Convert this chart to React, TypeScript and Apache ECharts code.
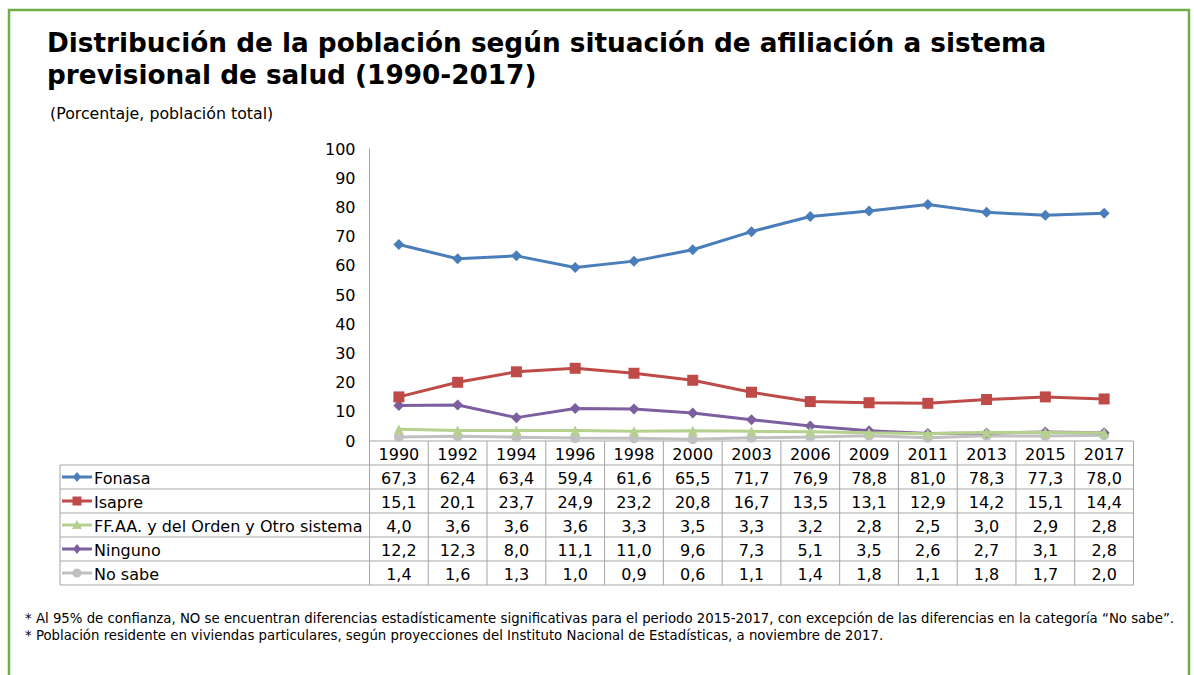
import React, { useEffect, useRef } from "react";
import * as echarts from "echarts";

const years = ["1990", "1992", "1994", "1996", "1998", "2000", "2003", "2006", "2009", "2011", "2013", "2015", "2017"];
const fonasa = [67.3, 62.4, 63.4, 59.4, 61.6, 65.5, 71.7, 76.9, 78.8, 81.0, 78.3, 77.3, 78.0];
const isapre = [15.1, 20.1, 23.7, 24.9, 23.2, 20.8, 16.7, 13.5, 13.1, 12.9, 14.2, 15.1, 14.4];
const ffaa = [4.0, 3.6, 3.6, 3.6, 3.3, 3.5, 3.3, 3.2, 2.8, 2.5, 3.0, 2.9, 2.8];
const ninguno = [12.2, 12.3, 8.0, 11.1, 11.0, 9.6, 7.3, 5.1, 3.5, 2.6, 2.7, 3.1, 2.8];
const noSabe = [1.4, 1.6, 1.3, 1.0, 0.9, 0.6, 1.1, 1.4, 1.8, 1.1, 1.8, 1.7, 2.0];

const seriesNames = ["Fonasa", "Isapre", "FF.AA. y del Orden y Otro sistema", "Ninguno", "No sabe"];
const seriesData = [fonasa, isapre, ffaa, ninguno, noSabe];
const seriesColors = ["#4a7ebb", "#be4b48", "#b6d08e", "#7d5fa0", "#c0c0c0"];
const seriesSymbols = ["diamond", "rect", "triangle", "diamond", "circle"];
const seriesSymbolSizes = [11, 11, 10, 11, 10];

const titleText = "Distribución de la población según situación de afiliación a sistema\nprevisional de salud (1990-2017)";
const subtitleText = "(Porcentaje, población total)";
const footnotes = [
  "* Al 95% de confianza, NO se encuentran diferencias estadísticamente significativas para el periodo 2015-2017, con excepción de las diferencias en la categoría “No sabe”.",
  "* Población residente en viviendas particulares, según proyecciones del Instituto Nacional de Estadísticas, a noviembre de 2017.",
];

const W = 1194;
const H = 675;
const FONT = "DejaVu Sans, Verdana, sans-serif";

const fmt = (v: number) => v.toFixed(1).replace(".", ",");

export default function App() {
  const ref = useRef<HTMLDivElement>(null);
  useEffect(() => {
    document.body.style.margin = "0";
    if (!ref.current) return;
    const chart = echarts.init(ref.current, null, { renderer: "svg" });

    const gridLeft = 369.5;
    const gridRight = 1133.5;
    const gridTop = 149;
    const gridBottom = 441;
    const colW = (gridRight - gridLeft) / years.length;
    const tableLeft = 60;
    const rowH = 24;
    const lineColor = "#a6a6a6";

    const graphic: any[] = [];
    graphic.push({
      type: "rect",
      shape: { x: 9, y: 10, width: 1180, height: 700 },
      style: { fill: "none", stroke: "#70ad47", lineWidth: 2.5 },
    });
    graphic.push({
      type: "text",
      x: 47,
      y: 27,
      style: { text: titleText, font: `bold 26.3px ${FONT}`, fill: "#000", lineHeight: 32 },
    });
    graphic.push({
      type: "text",
      x: 50,
      y: 105,
      style: { text: subtitleText, font: `15.8px ${FONT}`, fill: "#000" },
    });
    footnotes.forEach((t, i) => {
      graphic.push({
        type: "text",
        x: 25,
        y: 612 + i * 17,
        style: { text: t, font: `13.3px ${FONT}`, fill: "#000" },
      });
    });

    const tableBottom = gridBottom + rowH * (seriesNames.length + 1);
    graphic.push({
      type: "line",
      shape: { x1: gridLeft, y1: gridBottom, x2: gridRight, y2: gridBottom },
      style: { stroke: lineColor, lineWidth: 1 },
    });
    for (let r = 1; r <= seriesNames.length + 1; r++) {
      const y = gridBottom + r * rowH;
      graphic.push({
        type: "line",
        shape: { x1: tableLeft, y1: y, x2: gridRight, y2: y },
        style: { stroke: lineColor, lineWidth: 1 },
      });
    }
    graphic.push({
      type: "line",
      shape: { x1: tableLeft, y1: gridBottom + rowH, x2: tableLeft, y2: tableBottom },
      style: { stroke: lineColor, lineWidth: 1 },
    });
    for (let c = 0; c <= years.length; c++) {
      const x = gridLeft + c * colW;
      graphic.push({
        type: "line",
        shape: { x1: x, y1: gridBottom, x2: x, y2: tableBottom },
        style: { stroke: lineColor, lineWidth: 1 },
      });
    }
    years.forEach((yr, c) => {
      graphic.push({
        type: "text",
        x: gridLeft + (c + 0.5) * colW,
        y: gridBottom + rowH / 2 + 1,
        style: { text: yr, font: `16px ${FONT}`, fill: "#000", align: "center", verticalAlign: "middle" },
      });
    });
    seriesNames.forEach((name, r) => {
      const cy = gridBottom + (r + 1.5) * rowH;
      const color = seriesColors[r];
      graphic.push({
        type: "line",
        shape: { x1: 62, y1: cy, x2: 92, y2: cy },
        style: { stroke: color, lineWidth: 3 },
      });
      const mx = 77;
      const sym = seriesSymbols[r];
      if (sym === "diamond") {
        graphic.push({
          type: "polygon",
          shape: { points: [[mx, cy - 5], [mx + 4, cy], [mx, cy + 5], [mx - 4, cy]] },
          style: { fill: color },
        });
      } else if (sym === "rect") {
        graphic.push({ type: "rect", shape: { x: mx - 4.5, y: cy - 4.5, width: 9, height: 9 }, style: { fill: color } });
      } else if (sym === "triangle") {
        graphic.push({
          type: "polygon",
          shape: { points: [[mx, cy - 5], [mx + 5, cy + 4], [mx - 5, cy + 4]] },
          style: { fill: color },
        });
      } else {
        graphic.push({ type: "circle", shape: { cx: mx, cy, r: 4.5 }, style: { fill: color } });
      }
      graphic.push({
        type: "text",
        x: 94,
        y: cy + 1,
        style: { text: name, font: `16px ${FONT}`, fill: "#000", verticalAlign: "middle" },
      });
      seriesData[r].forEach((v, c) => {
        graphic.push({
          type: "text",
          x: gridLeft + (c + 0.5) * colW,
          y: cy + 1,
          style: { text: fmt(v), font: `16px ${FONT}`, fill: "#000", align: "center", verticalAlign: "middle" },
        });
      });
    });

    chart.setOption({
      animation: false,
      backgroundColor: "#fff",
      grid: { left: gridLeft, right: W - gridRight, top: gridTop, bottom: H - gridBottom },
      xAxis: {
        type: "category",
        data: years,
        boundaryGap: true,
        axisLine: { show: false },
        axisTick: { show: false },
        axisLabel: { show: false },
      },
      yAxis: {
        type: "value",
        min: 0,
        max: 100,
        interval: 10,
        splitLine: { show: false },
        axisLine: { show: true, lineStyle: { color: lineColor, width: 1 } },
        axisTick: { show: false },
        axisLabel: { color: "#000", fontSize: 16, fontFamily: FONT, margin: 14 },
      },
      series: seriesNames.map((name, i) => ({
        name,
        type: "line",
        data: seriesData[i],
        symbol: seriesSymbols[i],
        symbolSize: seriesSymbolSizes[i],
        lineStyle: { color: seriesColors[i], width: 3 },
        itemStyle: { color: seriesColors[i] },
        z: 10 - i,
      })),
      graphic,
    });
    return () => chart.dispose();
  }, []);
  return <div ref={ref} style={{ width: W, height: H }} />;
}
